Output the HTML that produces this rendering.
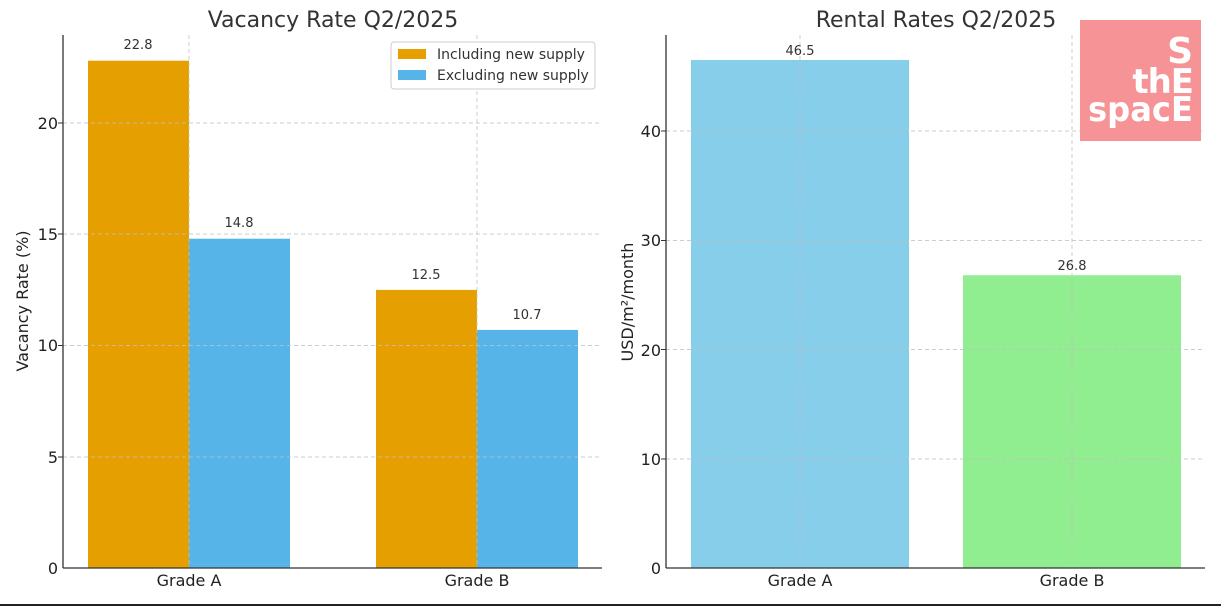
<!DOCTYPE html>
<html><head><meta charset="utf-8"><style>body{margin:0;background:#fff}svg{display:block;font-family:"DejaVu Sans","Liberation Sans",sans-serif}</style></head><body>
<svg width="1221" height="606" viewBox="0 0 1221 606" xmlns="http://www.w3.org/2000/svg">
<rect width="1221" height="606" fill="#fff"/>
<!-- LEFT CHART -->
<text x="333" y="27" font-size="22" fill="#333" text-anchor="middle">Vacancy Rate Q2/2025</text>
<rect x="88" y="60.7" width="101" height="507.3" fill="#E69F00"/>
<rect x="189" y="238.7" width="101" height="329.3" fill="#56B4E9"/>
<rect x="376" y="289.9" width="101" height="278.1" fill="#E69F00"/>
<rect x="477" y="329.9" width="101" height="238.1" fill="#56B4E9"/>
<g stroke="#c0c0c0" stroke-dasharray="4,3" stroke-width="1" opacity="0.8">
<line x1="63" x2="602" y1="457" y2="457"/><line x1="63" x2="602" y1="345.5" y2="345.5"/><line x1="63" x2="602" y1="234" y2="234"/><line x1="63" x2="602" y1="123" y2="123"/>
<line x1="189" x2="189" y1="35" y2="568"/><line x1="477" x2="477" y1="35" y2="568"/>
</g>
<g font-size="13" fill="#333" text-anchor="middle">
<text x="138" y="49">22.8</text><text x="239" y="227">14.8</text><text x="426" y="279">12.5</text><text x="527" y="319">10.7</text>
</g>
<line x1="63" y1="35" x2="63" y2="568" stroke="#333" stroke-width="1.3"/>
<line x1="63" y1="568" x2="602" y2="568" stroke="#333" stroke-width="1.3"/>
<g font-size="16" fill="#222" text-anchor="end">
<text x="58" y="574">0</text><text x="58" y="463">5</text><text x="58" y="351">10</text><text x="58" y="240">15</text><text x="58" y="129">20</text>
</g>
<g stroke="#333"><line x1="58" x2="63" y1="457" y2="457"/><line x1="58" x2="63" y1="345.5" y2="345.5"/><line x1="58" x2="63" y1="234" y2="234"/><line x1="58" x2="63" y1="123" y2="123"/></g>
<text x="189" y="586" font-size="16" fill="#222" text-anchor="middle">Grade A</text>
<text x="477" y="586" font-size="16" fill="#222" text-anchor="middle">Grade B</text>
<text transform="translate(28,301) rotate(-90)" font-size="16" fill="#222" text-anchor="middle">Vacancy Rate (%)</text>
<rect x="391" y="42" width="204" height="47" rx="3" fill="#fff" stroke="#ccc"/>
<rect x="398" y="49" width="28" height="10" fill="#E69F00"/>
<rect x="398" y="70" width="28" height="10" fill="#56B4E9"/>
<text x="437" y="59" font-size="14" fill="#333">Including new supply</text>
<text x="437" y="80" font-size="14" fill="#333">Excluding new supply</text>
<!-- RIGHT CHART -->
<text x="936" y="27" font-size="22" fill="#333" text-anchor="middle">Rental Rates Q2/2025</text>
<rect x="691" y="60" width="218" height="508" fill="#87CEEB"/>
<rect x="963" y="275.2" width="218" height="292.8" fill="#90EE90"/>
<g stroke="#c0c0c0" stroke-dasharray="4,3" stroke-width="1" opacity="0.8">
<line x1="666" x2="1205" y1="459" y2="459"/><line x1="666" x2="1205" y1="349.5" y2="349.5"/><line x1="666" x2="1205" y1="240.5" y2="240.5"/><line x1="666" x2="1205" y1="131" y2="131"/>
<line x1="800" x2="800" y1="35" y2="568"/><line x1="1072" x2="1072" y1="35" y2="568"/>
</g>
<text x="800" y="55" font-size="13" fill="#333" text-anchor="middle">46.5</text>
<text x="1072" y="270" font-size="13" fill="#333" text-anchor="middle">26.8</text>
<line x1="666" y1="35" x2="666" y2="568" stroke="#333" stroke-width="1.3"/>
<line x1="666" y1="568" x2="1205" y2="568" stroke="#333" stroke-width="1.3"/>
<g font-size="16" fill="#222" text-anchor="end">
<text x="661" y="574">0</text><text x="661" y="465">10</text><text x="661" y="356">20</text><text x="661" y="246">30</text><text x="661" y="137">40</text>
</g>
<g stroke="#333"><line x1="661" x2="666" y1="459" y2="459"/><line x1="661" x2="666" y1="349.5" y2="349.5"/><line x1="661" x2="666" y1="240.5" y2="240.5"/><line x1="661" x2="666" y1="131" y2="131"/></g>
<text x="800" y="586" font-size="16" fill="#222" text-anchor="middle">Grade A</text>
<text x="1072" y="586" font-size="16" fill="#222" text-anchor="middle">Grade B</text>
<text transform="translate(633,302) rotate(-90)" font-size="16" fill="#222" text-anchor="middle">USD/m²/month</text>
<!-- logo -->
<rect x="1080" y="20" width="121" height="121" fill="#F59396"/>
<g fill="#fff" font-weight="bold" font-family="'DejaVu Sans',sans-serif">
<text x="1193" y="63" font-size="36" text-anchor="end">S</text>
<text x="1193" y="93" font-size="34" text-anchor="end" letter-spacing="-1">thE</text>
<text x="1193" y="121" font-size="34" text-anchor="end" textLength="105" lengthAdjust="spacingAndGlyphs">spacE</text>
</g>
<line x1="0" y1="605" x2="1221" y2="605" stroke="#222" stroke-width="2"/>
</svg>
</body></html>
